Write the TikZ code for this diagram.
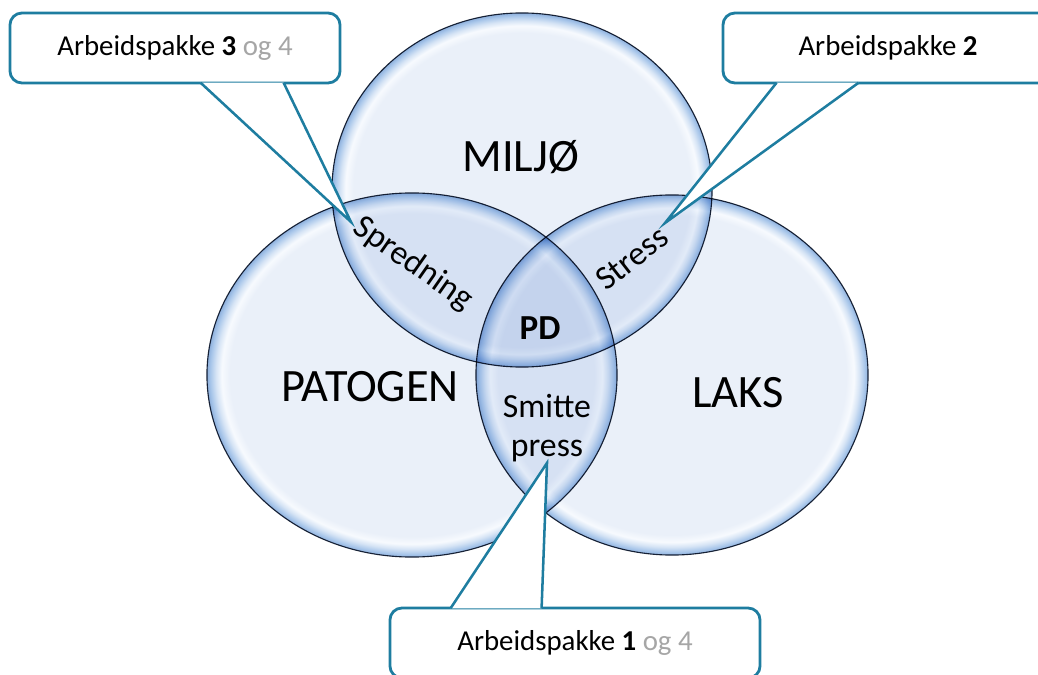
\documentclass[tikz,border=0pt]{standalone}
\usepackage{fontspec}
\setmainfont{Carlito}
\usetikzlibrary{shapes.geometric, calc}
\definecolor{calloutblue}{RGB}{30,125,160}
\definecolor{oggray}{RGB}{166,166,166}
\definecolor{rimline}{RGB}{30,40,58}
\definecolor{glassin}{RGB}{234,240,249}
\definecolor{glasshi}{RGB}{247,250,254}
\definecolor{glassmid}{RGB}{214,228,245}
\definecolor{glassrim}{RGB}{168,198,234}
\definecolor{glassedge}{RGB}{142,176,220}
\pgfdeclareradialshading{glass}{\pgfpoint{0bp}{0bp}}{color(0bp)=(glassin); color(22.2bp)=(glassin); color(23.2bp)=(glasshi); color(23.9bp)=(glassmid); color(24.6bp)=(glassrim); color(25bp)=(glassedge); color(50bp)=(glassedge)}
\tikzstyle{venn} = [ellipse, draw=rimline, line width=0.8pt, shading=glass, blend mode=multiply, inner sep=0pt, outer sep=0pt]
\tikzstyle{biglabel} = [font=\fontsize{33}{40}\selectfont]
\tikzstyle{lenslabel} = [font=\fontsize{24}{27.6}\selectfont, align=center]
\tikzstyle{callout} = [rectangle, rounded corners=0.3cm, draw=calloutblue, line width=2pt, fill=white, minimum width=8.25cm, minimum height=1.75cm, font=\fontsize{20.5}{24}\selectfont]
\tikzstyle{pointer} = [draw=calloutblue, line width=1.8pt, fill=white]

\begin{document}
\begin{tikzpicture}[x=0.025cm, y=-0.025cm]
\useasboundingbox (0,0) rectangle (1038,675);
% Circles
\node (miljo) [venn, minimum width=9.5cm, minimum height=8.85cm] at (522,190) {};
\node (patogen) [venn, minimum width=10.25cm, minimum height=9.1cm] at (412,375) {};
\node (laks) [venn, minimum width=9.8cm, minimum height=9cm] at (672,375) {};
% Callouts
\node (ap3) [callout] at (175,48) {Arbeidspakke \textbf{3} \textcolor{oggray}{og 4}};
\node (ap2) [callout] at (888,48) {Arbeidspakke \textbf{2}};
\node (ap1) [callout, minimum width=9.25cm] at (575,643) {Arbeidspakke \textbf{1} \textcolor{oggray}{og 4}};
\coordinate (tip3) at (351,222);
\coordinate (tip2) at (665,223);
\coordinate (tip1) at (547,463);
% Pointers
\filldraw [pointer] ([xshift=4.8cm, yshift=1.2pt]ap3.south west) -- (tip3) -- ([xshift=6.875cm, yshift=1.2pt]ap3.south west);
\filldraw [pointer] ([xshift=1.375cm, yshift=1.2pt]ap2.south west) -- (tip2) -- ([xshift=3.425cm, yshift=1.2pt]ap2.south west);
\filldraw [pointer] ([xshift=1.55cm, yshift=-1.2pt]ap1.north west) -- (tip1) -- ([xshift=3.825cm, yshift=-1.2pt]ap1.north west);
% Labels
\node (miljotxt) [biglabel] at (521,157) {MILJØ};
\node (patogentxt) [biglabel] at (370,387) {PATOGEN};
\node (lakstxt) [biglabel] at (738,393) {LAKS};
\node (spredning) [lenslabel, rotate=-35] at (413,264) {Spredning};
\node (stress) [lenslabel, rotate=38] at (632,258) {Stress};
\node (pd) [lenslabel, font=\fontsize{25}{30}\selectfont\bfseries] at (540,328) {PD};
\node (smitte) [lenslabel] at (547,428) {Smitte\\press};
\end{tikzpicture}
\end{document}
